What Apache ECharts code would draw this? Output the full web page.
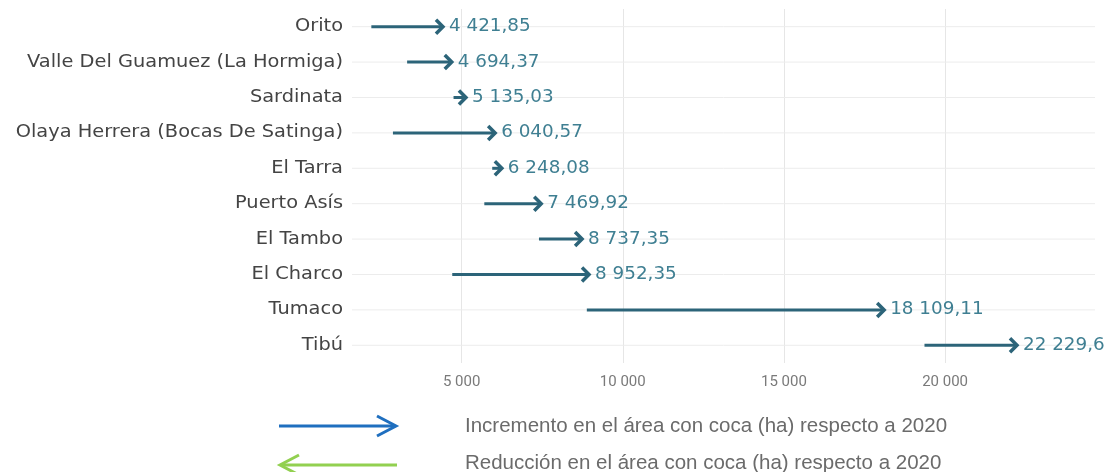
<!DOCTYPE html>
<html>
<head>
<meta charset="utf-8">
<script src="https://cdn.jsdelivr.net/npm/echarts@6/dist/echarts.min.js"></script>
<style>
html,body{margin:0;padding:0;background:#fff;}
#chart{width:1117px;height:472px;}
</style>
</head>
<body>
<div id="chart"></div>
<script>
const categories = ['Orito','Valle Del Guamuez (La Hormiga)','Sardinata','Olaya Herrera (Bocas De Satinga)','El Tarra','Puerto Asís','El Tambo','El Charco','Tumaco','Tibú'];
const values2020 = [2200, 3310, 4750, 2870, 5950, 5705, 7400, 4710, 8885, 19360];
const values2021 = [4421.85, 4694.37, 5135.03, 6040.57, 6248.08, 7469.92, 8737.35, 8952.35, 18109.11, 22229.6];
const xTicks = [5000, 10000, 15000, 20000];
const legendTexts = ['Incremento en el área con coca (ha) respecto a 2020', 'Reducción en el área con coca (ha) respecto a 2020'];

function fmt(v) {
  const s = String(v).split('.');
  const intPart = s[0].replace(/\B(?=(\d{3})+(?!\d))/g, ' ');
  return s.length > 1 ? intPart + ',' + s[1] : intPart;
}

const arrowData = categories.map((c, i) => [values2020[i], values2021[i], i]);

const chart = echarts.init(document.getElementById('chart'));
const ARROW = '#2c6479';
const LABEL = '#3f7f92';

chart.setOption({
  animation: false,
  grid: { left: 352, right: 22, top: 9, bottom: 109, containLabel: false },
  xAxis: {
    type: 'value',
    min: 1600,
    max: 24650,
    axisLine: { show: false },
    axisTick: { show: false, customValues: xTicks },
    axisLabel: {
      customValues: xTicks,
      color: '#7a7a7a',
      fontSize: 15,
      fontFamily: 'Roboto',
      margin: 12,
      formatter: v => fmt(v)
    },
    splitLine: { show: true, lineStyle: { color: '#e6e6e6', width: 1 } }
  },
  yAxis: {
    type: 'category',
    data: categories,
    inverse: true,
    axisLine: { show: false },
    axisTick: { show: false },
    splitLine: { show: false },
    axisLabel: { show: false }
  },
  series: [{
    type: 'custom',
    data: arrowData,
    encode: { x: [0, 1], y: 2 },
    clip: false,
    renderItem: function (params, api) {
      const cs = params.coordSys;
      const idx = api.value(2);
      const p0 = api.coord([api.value(0), idx]);
      const p1 = api.coord([api.value(1), idx]);
      const y = p0[1];
      return {
        type: 'group',
        children: [
          { type: 'line', shape: { x1: cs.x, y1: y, x2: cs.x + cs.width, y2: y }, style: { stroke: '#ececec', lineWidth: 1 }, z2: 0 },
          { type: 'text', x: cs.x - 9, y: y, scaleX: 1.14, style: { text: categories[idx], fill: '#444', fontSize: 17, fontFamily: 'DejaVu Sans', align: 'right', verticalAlign: 'middle' }, z2: 4 },
          { type: 'line', shape: { x1: p0[0], y1: y, x2: p1[0] - 2, y2: y }, style: { stroke: ARROW, lineWidth: 3 }, z2: 2 },
          { type: 'polyline', shape: { points: [[p1[0] - 7, y - 7], [p1[0], y], [p1[0] - 7, y + 7]] }, style: { stroke: ARROW, lineWidth: 3.5, fill: null, lineJoin: 'miter' }, z2: 3 },
          { type: 'text', x: p1[0] + 6, y: y, scaleX: 1.08, style: { text: fmt(api.value(1)), fill: LABEL, fontSize: 17, fontFamily: 'DejaVu Sans', align: 'left', verticalAlign: 'middle' }, z2: 4 }
        ]
      };
    }
  }],
  graphic: [
    { type: 'line', shape: { x1: 279, y1: 426, x2: 395, y2: 426 }, style: { stroke: '#1f6fbf', lineWidth: 3 } },
    { type: 'polyline', shape: { points: [[377, 416], [396, 426], [377, 436]] }, style: { stroke: '#1f6fbf', lineWidth: 3, fill: null } },
    { type: 'line', shape: { x1: 281, y1: 465, x2: 397, y2: 465 }, style: { stroke: '#92d050', lineWidth: 3 } },
    { type: 'polyline', shape: { points: [[299, 455], [280, 465], [299, 475]] }, style: { stroke: '#92d050', lineWidth: 3, fill: null } },
    { type: 'text', x: 465, y: 426, style: { text: legendTexts[0], fill: '#6b6b6b', fontSize: 20.5, fontFamily: 'Liberation Sans', verticalAlign: 'middle' } },
    { type: 'text', x: 465, y: 463, style: { text: legendTexts[1], fill: '#6b6b6b', fontSize: 20.5, fontFamily: 'Liberation Sans', verticalAlign: 'middle' } }
  ]
});
</script>
</body>
</html>
